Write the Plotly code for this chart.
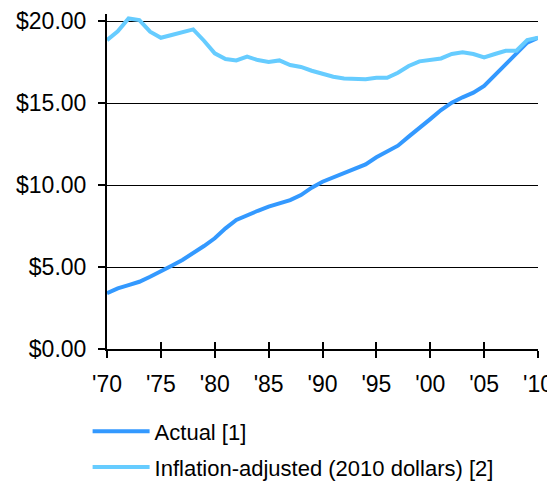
import plotly.graph_objects as go

years = list(range(1970, 2011))
actual = [3.40, 3.70, 3.90, 4.10, 4.41, 4.78, 5.08, 5.43, 5.83, 6.28,
          6.75, 7.36, 7.87, 8.17, 8.43, 8.68, 8.88, 9.08, 9.39, 9.84,
          10.20, 10.45, 10.75, 10.96, 11.26, 11.69, 12.03, 12.40, 12.95, 13.46,
          14.02, 14.57, 15.02, 15.35, 15.63, 16.04, 16.71, 17.42, 18.07, 18.68,
          18.98]
adjusted = [18.84, 19.37, 20.16, 20.06, 19.35, 18.98, 19.15, 19.35, 19.49, 18.80,
            18.03, 17.68, 17.60, 17.83, 17.62, 17.50, 17.60, 17.32, 17.20, 16.97,
            16.80, 16.60, 16.50, 16.45, 16.45, 16.54, 16.54, 16.85, 17.26, 17.54,
            17.62, 17.72, 17.99, 18.09, 17.99, 17.78, 17.99, 18.19, 18.19, 18.84,
            18.98]
x_tickvals = [1970, 1975, 1980, 1985, 1990, 1995, 2000, 2005, 2010]
x_ticktext = ["'70", "'75", "'80", "'85", "'90", "'95", "'00", "'05", "'10"]
y_tickvals = [0, 5, 10, 15, 20]
y_ticktext = ["$0.00", "$5.00", "$10.00", "$15.00", "$20.00"]

fig = go.Figure()
fig.add_trace(go.Scatter(x=years, y=actual, mode="lines", name="Actual [1]",
                         legendgroup="a", cliponaxis=False,
                         line=dict(color="#3399ff", width=4)))
fig.add_trace(go.Scatter(x=years, y=adjusted, mode="lines",
                         name="Inflation-adjusted (2010 dollars) [2]",
                         legendgroup="b", cliponaxis=False,
                         line=dict(color="#66ccff", width=4)))

# page body has an 8px margin, so the figure is sized/offset to compensate
fig.update_layout(
    width=547, height=473,
    margin=dict(l=99, r=17, t=6, b=132),
    paper_bgcolor="white", plot_bgcolor="white",
    font=dict(family="Liberation Sans, Arial, sans-serif", size=23, color="black"),
    showlegend=True,
    legend=dict(x=-0.045, xanchor="left", yref="container", y=0.149, yanchor="top",
                font=dict(size=22), tracegroupgap=4, itemwidth=57,
                bgcolor="rgba(0,0,0,0)"),
    xaxis=dict(range=[1970, 2010], tickvals=x_tickvals, ticktext=x_ticktext,
               showgrid=False, zeroline=False, showline=True, linecolor="black",
               linewidth=2, ticks="outside", ticklen=7, tickcolor="black",
               tickwidth=1.5, ticklabelstandoff=6, automargin=False,
               fixedrange=True),
    xaxis2=dict(range=[1970, 2010], tickvals=x_tickvals, overlaying="x",
                showticklabels=False, showgrid=False, zeroline=False,
                ticks="inside", ticklen=7, tickcolor="black", tickwidth=1.5,
                side="bottom", anchor="y", automargin=False),
    yaxis=dict(range=[0, 20.43], tickvals=y_tickvals, ticktext=y_ticktext,
               showgrid=True, gridcolor="black", gridwidth=1.2, zeroline=False,
               showline=True, linecolor="black", linewidth=2,
               ticks="outside", ticklen=7, tickcolor="black", tickwidth=1.5,
               ticklabelstandoff=7, automargin=False, fixedrange=True),
)
fig.add_trace(go.Scatter(x=[1970], y=[None], xaxis="x2", showlegend=False,
                         hoverinfo="skip"))

fig.write_html("out.html")
